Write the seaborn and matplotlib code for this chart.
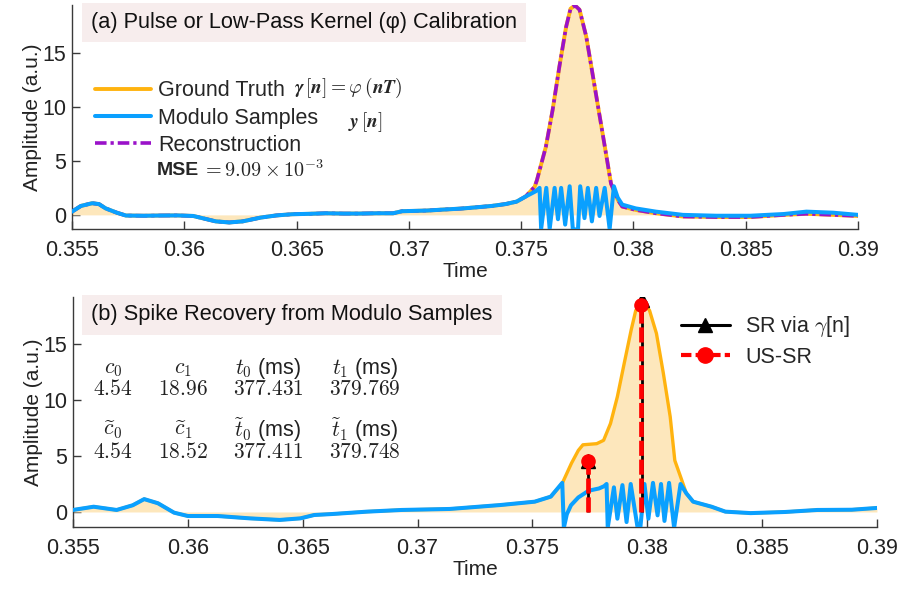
import numpy as np
import matplotlib
matplotlib.use('Agg')
import matplotlib.pyplot as plt
import seaborn as sns
from matplotlib.lines import Line2D
from matplotlib.legend_handler import HandlerLine2D

sns.set_style('ticks')
plt.rcParams['font.family'] = ['Liberation Sans', 'DejaVu Sans']
plt.rcParams['mathtext.fontset'] = 'cm'

ORANGE = '#ffb30f'
FILL = '#fde7bc'
BLUE = '#0aa0ff'
PURPLE = '#9a12c9'
RED = '#ff0000'
AXCOL = '#3a3a3a'

# ---- panel (a): calibration pulse ----
top_t = [0.3550, 0.3554, 0.3559, 0.3562, 0.3565, 0.3570, 0.3574, 0.3582, 0.3589, 0.3597,
         0.3604, 0.3608, 0.3614, 0.3620, 0.3626, 0.3634, 0.3641, 0.3648, 0.3656, 0.3663,
         0.3671, 0.3678, 0.3686, 0.3693, 0.3697, 0.3708, 0.3716, 0.3723, 0.3730, 0.3737,
         0.3743, 0.3748, 0.3752, 0.3756, 0.3757, 0.3761, 0.3764, 0.3767, 0.3770, 0.3772,
         0.3774, 0.3776, 0.3779, 0.3782, 0.3785, 0.3788, 0.3790]
top_gt = [0.3, 0.83, 1.08, 1.0, 0.6, 0.2, -0.06, -0.08, -0.06, -0.05,
          -0.1, -0.3, -0.6, -0.7, -0.6, -0.25, -0.05, 0.06, 0.1, 0.15,
          0.12, 0.12, 0.15, 0.15, 0.34, 0.4, 0.5, 0.58, 0.7, 0.83,
          1.0, 1.23, 1.7, 2.6, 3.2, 6.3, 9.7, 13.7, 17.4, 19.1,
          19.4, 19.0, 16.5, 12.8, 9.1, 5.4, 2.9]

# tail after the pulse: reconstruction / ground truth and modulo samples
tail_t = [0.3793, 0.3795, 0.3801, 0.3810, 0.3822, 0.3837, 0.3852, 0.3867, 0.3877, 0.3889, 0.3900]
tail_gt = [1.4, 0.77, 0.46, 0.15, -0.15, -0.2, -0.2, 0.0, 0.1, 0.0, -0.1]
tail_mod = [1.6, 0.95, 0.6, 0.3, 0.0, -0.08, -0.08, 0.08, 0.3, 0.2, 0.0]

# folded (modulo) samples during the pulse
top_zig_t = [0.37566, 0.37582, 0.37589, 0.37612, 0.37627, 0.37649, 0.37664, 0.37678, 0.37696,
             0.37716, 0.37730, 0.37753, 0.37763, 0.37782, 0.37797, 0.37815, 0.37834, 0.37849,
             0.37872, 0.37894, 0.37913]
top_zig_y = [2.2, 2.5, -1.3, 2.5, -1.3, 2.5, -0.4, 2.5, -0.9,
             2.65, -1.3, -1.4, 2.65, -0.3, 2.5, -0.6, 2.5, -0.1,
             2.5, -1.3, 2.65]
mse_text = r'$= 9.09 \times 10^{-3}$'

# ---- panel (b): spike recovery ----
bot_t = [0.3550, 0.3559, 0.3569, 0.3576, 0.3581, 0.3587, 0.3594, 0.3600, 0.3613, 0.3627,
         0.3640, 0.3649, 0.3655, 0.3663, 0.3678, 0.3693, 0.3707, 0.3714, 0.3736, 0.3751,
         0.3758, 0.3763, 0.3767, 0.3770, 0.3772, 0.3778, 0.3781, 0.3784, 0.3787, 0.3790,
         0.3793, 0.3795, 0.3798, 0.3801, 0.3804, 0.3807, 0.3810, 0.3812, 0.3815, 0.3817,
         0.3820, 0.3828, 0.3834, 0.3845, 0.3860, 0.3874, 0.3889, 0.3900]
bot_gt = [0.18, 0.47, 0.18, 0.6, 1.15, 0.78, -0.06, -0.36, -0.36, -0.57,
          -0.71, -0.57, -0.27, -0.18, 0.03, 0.18, 0.24, 0.27, 0.62, 0.92,
          1.37, 2.56, 4.35, 5.5, 6.0, 6.1, 6.4, 7.9, 10.3, 13.3,
          16.25, 18.0, 18.8, 18.0, 15.95, 12.4, 8.5, 4.6, 2.86, 1.67,
          0.92, 0.47, 0.03, -0.1, 0.0, 0.18, 0.2, 0.36]

bot_zig_t = [0.37630, 0.37637, 0.37650, 0.37668, 0.37700, 0.37745, 0.37790, 0.37812, 0.37823,
             0.37828, 0.37855, 0.37870, 0.37892, 0.37910, 0.37928, 0.37958, 0.37970, 0.37988,
             0.38005, 0.38025, 0.38045, 0.38060, 0.38075, 0.38095, 0.38117, 0.38145]
bot_zig_y = [2.6, -1.4, -0.2, 0.6, 1.3, 1.9, 2.1, 2.3, 2.5,
             -1.4, 2.2, -0.6, 2.4, -0.9, 2.5, -1.4, -1.4, 2.5,
             -0.6, 2.6, -0.3, 2.5, -0.8, 2.6, -1.4, 2.5]

sr_t = [0.377431, 0.379769]     # SR via gamma[n]
sr_c = [4.54, 18.96]
us_t = [0.377411, 0.379748]     # US-SR
us_c = [4.54, 18.52]

xticks = [0.355, 0.36, 0.365, 0.37, 0.375, 0.38, 0.385, 0.39]
xticklabels = ['0.355', '0.36', '0.365', '0.37', '0.375', '0.38', '0.385', '0.39']
yticks = [0, 5, 10, 15]

# build full series
top_t_full = np.array(top_t + tail_t)
top_gt_full = np.array(top_gt + tail_gt)
pre = np.array(top_t) < 0.3755
top_mod_t = np.concatenate([np.array(top_t)[pre], top_zig_t, tail_t])
top_mod_y = np.concatenate([np.array(top_gt)[pre], top_zig_y, tail_mod])

bt = np.array(bot_t)
bg = np.array(bot_gt)
bot_mod_t = np.concatenate([bt[bt < 0.3760], bot_zig_t, bt[bt > 0.3816]])
bot_mod_y = np.concatenate([bg[bt < 0.3760], bot_zig_y, bg[bt > 0.3816]])


class EndMarker(HandlerLine2D):
    # marker at the right end of the legend line, like the original
    def get_xdata(self, legend, xdescent, ydescent, width, height, fontsize):
        xdata, _ = super().get_xdata(legend, xdescent, ydescent, width, height, fontsize)
        return xdata, xdata[-1:]


def style_axes(ax, ylim):
    ax.set_xlim(0.355, 0.39)
    ax.set_ylim(*ylim)
    ax.set_xticks(xticks)
    ax.set_xticklabels(xticklabels)
    ax.set_yticks(yticks)
    sns.despine(ax=ax)
    for s in ['left', 'bottom']:
        ax.spines[s].set_color(AXCOL)
        ax.spines[s].set_linewidth(1.0)
    ax.tick_params(direction='in', length=6, width=1, colors=AXCOL, labelcolor='#222222',
                   labelsize=15.5)
    ax.tick_params(axis='x', pad=8)
    ax.tick_params(axis='y', pad=4)
    ax.set_xlabel('Time', fontsize=15, labelpad=1, color='#222222')
    ax.set_ylabel('Amplitude (a.u.)', fontsize=15, labelpad=0, color='#222222')


fig = plt.figure(figsize=(9.01, 5.90), dpi=100)
ax1 = fig.add_axes([0.0799, 0.612, 0.8724, 0.3797])
ax2 = fig.add_axes([0.081, 0.1068, 0.8923, 0.3898])

# ---- (a) ----
ax1.fill_between(top_t_full, top_gt_full, 0, color=FILL, lw=0, zorder=1)
sns.lineplot(x=top_t_full, y=top_gt_full, ax=ax1, color=ORANGE, lw=2.8, sort=False,
             label='Ground Truth', zorder=2)
sns.lineplot(x=top_t_full, y=top_gt_full, ax=ax1, color=PURPLE, lw=2.6, sort=False,
             dashes=False, label='Reconstruction', zorder=3)
sns.lineplot(x=top_mod_t, y=top_mod_y, ax=ax1, color=BLUE, lw=2.9, sort=False,
             label='Modulo Samples', zorder=4)
ax1.lines[1].set_dashes([3.2, 1.1, 0.9, 1.1])
style_axes(ax1, (-1.3, 19.45))

h, l = ax1.get_legend_handles_labels()
order = [l.index('Ground Truth'), l.index('Modulo Samples'), l.index('Reconstruction')]
ax1.legend([h[i] for i in order], [l[i] for i in order], loc='center left',
           bbox_to_anchor=(0.018, 0.495), frameon=False, fontsize=15.5,
           handlelength=2.6, handletextpad=0.35, labelspacing=0.3, borderaxespad=0)
ax1.text(0.282, 0.63, r'$\boldsymbol{\gamma\,[n] = \varphi\,(nT)}$', transform=ax1.transAxes,
         fontsize=14, va='center', ha='left')
ax1.text(0.351, 0.478, r'$\boldsymbol{y\,[n]}$', transform=ax1.transAxes,
         fontsize=14, va='center', ha='left')
ax1.text(0.108, 0.263, 'MSE', transform=ax1.transAxes, fontsize=14, fontweight='bold',
         va='center', ha='left')
ax1.text(0.166, 0.263, mse_text, transform=ax1.transAxes, fontsize=14.5,
         va='center', ha='left')
ax1.text(0.024, 0.92, '(a) Pulse or Low-Pass Kernel (\u03c6) Calibration', transform=ax1.transAxes,
         fontsize=15.7, va='center', ha='left', color='#111111',
         bbox=dict(boxstyle='square,pad=0.42', fc='#f7eded', ec='none'), zorder=6)

# ---- (b) ----
ax2.fill_between(bot_t, bot_gt, 0, color=FILL, lw=0, zorder=1)
sns.lineplot(x=bot_t, y=bot_gt, ax=ax2, color=ORANGE, lw=2.4, sort=False, zorder=2)
sns.lineplot(x=bot_mod_t, y=bot_mod_y, ax=ax2, color=BLUE, lw=2.9, sort=False, zorder=3)
ax2.vlines(sr_t, 0, sr_c, color='black', lw=2.0, zorder=5)
ax2.plot(sr_t, sr_c, ls='none', marker='^', ms=10.5, color='black', zorder=6)
ax2.vlines(us_t, 0, us_c, color=RED, lw=3.4, linestyles=(0, (3.2, 0.8)), zorder=7)
ax2.plot(us_t, us_c, ls='none', marker='o', ms=9.5, color=RED, zorder=8)
style_axes(ax2, (-1.34, 19.2))

handles = [Line2D([], [], color='black', lw=2.2, marker='^', ms=10),
           Line2D([], [], color=RED, lw=3, ls=(0, (2.5, 1)), marker='o', ms=11)]
ax2.legend(handles, [r'SR via $\gamma$[n]', 'US-SR'], loc='center left',
           bbox_to_anchor=(0.745, 0.809), frameon=False, fontsize=15.5,
           handlelength=2.3, handletextpad=0.7, labelspacing=0.35, borderaxespad=0,
           handler_map={Line2D: EndMarker(numpoints=1)})

ax2.text(0.0224, 0.922, '(b) Spike Recovery from Modulo Samples', transform=ax2.transAxes,
         fontsize=15.7, va='center', ha='left', color='#111111',
         bbox=dict(boxstyle='square,pad=0.42', fc='#f7eded', ec='none'), zorder=9)

# table of recovered spike parameters
col_x = [0.0498, 0.137, 0.2425, 0.363]
head1 = [r'$c_0$', r'$c_1$', r'$t_0$ (ms)', r'$t_1$ (ms)']
head2 = [r'$\widetilde{c}_0$', r'$\widetilde{c}_1$', r'$\widetilde{t}_0$ (ms)', r'$\widetilde{t}_1$ (ms)']
vals1 = ['$%.2f$' % sr_c[0], '$%.2f$' % sr_c[1], '$%.3f$' % (sr_t[0] * 1000), '$%.3f$' % (sr_t[1] * 1000)]
vals2 = ['$%.2f$' % us_c[0], '$%.2f$' % us_c[1], '$%.3f$' % (us_t[0] * 1000), '$%.3f$' % (us_t[1] * 1000)]
for row, ypos in [(head1, 0.691), (vals1, 0.596), (head2, 0.422), (vals2, 0.322)]:
    for x, s in zip(col_x, row):
        ax2.text(x, ypos, s, transform=ax2.transAxes, fontsize=15.5, ha='center', va='center',
                 color='#222222')

fig.savefig('out.png', dpi=100)
